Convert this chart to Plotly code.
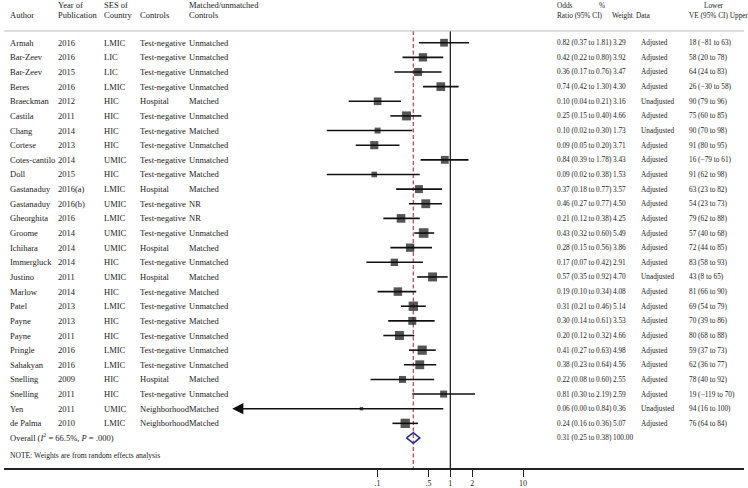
import math
import plotly.graph_objects as go

authors = ["Armah", "Bar-Zeev", "Bar-Zeev", "Beres", "Braeckman", "Castila", "Chang", "Cortese",
           "Cotes-cantilo", "Doll", "Gastanaduy", "Gastanaduy", "Gheorghita", "Groome", "Ichihara",
           "Immergluck", "Justino", "Marlow", "Patel", "Payne", "Payne", "Pringle", "Sahakyan",
           "Snelling", "Snelling", "Yen", "de Palma"]
years = ["2016", "2016", "2015", "2016", "2012", "2011", "2014", "2013", "2014", "2015", "2016(a)",
         "2016(b)", "2016", "2014", "2014", "2014", "2011", "2014", "2013", "2013", "2011", "2016",
         "2016", "2009", "2011", "2011", "2010"]
ses = ["LMIC", "LIC", "LIC", "LMIC", "HIC", "HIC", "HIC", "HIC", "UMIC", "HIC", "LMIC", "UMIC", "LMIC",
       "UMIC", "UMIC", "HIC", "UMIC", "HIC", "LMIC", "HIC", "HIC", "LMIC", "LMIC", "HIC", "HIC",
       "UMIC", "LMIC"]
controls = ["Test-negative", "Test-negative", "Test-negative", "Test-negative", "Hospital",
            "Test-negative", "Test-negative", "Test-negative", "Test-negative", "Test-negative",
            "Hospital", "Test-negative", "Test-negative", "Test-negative", "Hospital", "Test-negative",
            "Hospital", "Test-negative", "Test-negative", "Test-negative", "Test-negative",
            "Test-negative", "Test-negative", "Hospital", "Test-negative", "Neighborhood",
            "Neighborhood"]
matched = ["Unmatched", "Unmatched", "Unmatched", "Unmatched", "Matched", "Unmatched", "Matched",
           "Unmatched", "Unmatched", "Matched", "Matched", "NR", "NR", "Unmatched", "Matched",
           "Unmatched", "Matched", "Matched", "Unmatched", "Matched", "Unmatched", "Unmatched",
           "Unmatched", "Matched", "Unmatched", "Matched", "Matched"]
odds_ratio = [0.82, 0.42, 0.36, 0.74, 0.10, 0.25, 0.10, 0.09, 0.84, 0.09, 0.37, 0.46, 0.21, 0.43,
              0.28, 0.17, 0.57, 0.19, 0.31, 0.30, 0.20, 0.41, 0.38, 0.22, 0.81, 0.06, 0.24]
ci_low = [0.37, 0.22, 0.17, 0.42, 0.04, 0.15, 0.02, 0.05, 0.39, 0.02, 0.18, 0.27, 0.12, 0.32, 0.15,
          0.07, 0.35, 0.10, 0.21, 0.14, 0.12, 0.27, 0.23, 0.08, 0.30, 0.00, 0.16]
ci_high = [1.81, 0.80, 0.76, 1.30, 0.21, 0.40, 0.30, 0.20, 1.78, 0.38, 0.77, 0.77, 0.38, 0.60, 0.56,
           0.42, 0.92, 0.34, 0.46, 0.61, 0.32, 0.63, 0.64, 0.60, 2.19, 0.84, 0.36]
weights = [3.29, 3.92, 3.47, 4.30, 3.16, 4.66, 1.73, 3.71, 3.43, 1.53, 3.57, 4.50, 4.25, 5.49, 3.86,
           2.91, 4.70, 4.08, 5.14, 3.53, 4.66, 4.98, 4.56, 2.55, 2.59, 0.36, 5.07]
data_type = ["Adjusted", "Adjusted", "Adjusted", "Adjusted", "Unadjusted", "Adjusted", "Unadjusted",
             "Adjusted", "Adjusted", "Adjusted", "Adjusted", "Adjusted", "Adjusted", "Adjusted",
             "Adjusted", "Adjusted", "Unadjusted", "Adjusted", "Adjusted", "Adjusted", "Adjusted",
             "Adjusted", "Adjusted", "Adjusted", "Adjusted", "Unadjusted", "Adjusted"]
ve_text = ["18 (\u221281 to 63)", "58 (20 to 78)", "64 (24 to 83)", "26 (\u221230 to 58)",
           "90 (79 to 96)", "75 (60 to 85)", "90 (70 to 98)", "91 (80 to 95)", "16 (\u221279 to 61)",
           "91 (62 to 98)", "63 (23 to 82)", "54 (23 to 73)", "79 (62 to 88)", "57 (40 to 68)",
           "72 (44 to 85)", "83 (58 to 93)", "43 (8 to 65)", "81 (66 to 90)", "69 (54 to 79)",
           "70 (39 to 86)", "80 (68 to 88)", "59 (37 to 73)", "62 (36 to 77)", "78 (40 to 92)",
           "19 (\u2212119 to 70)", "94 (16 to 100)", "76 (64 to 84)"]
overall_or, overall_low, overall_high, overall_weight = 0.31, 0.25, 0.38, 100.00
overall_label = "Overall (<i>I</i><sup>2</sup> = 66.5%, <i>P</i> = .000)"
tick_vals = [0.1, 0.5, 1, 2, 10]
tick_text = [".1", ".5", "1", "2", "10"]
axis_clip = 0.001  # left limit where truncated CIs get an arrow

W, H = 748, 488
ML, MR, MT, MB = 4, 4, 0, 20
FONT = "Liberation Serif"
TXT = "#222222"
FS_L = 8.5
FS_R = 7.3

n = len(authors)
rows = list(range(n))
overall_row = n
x_range = [-6.139, 4.040]
y_range = [29.05, -2.917]
top_rule = -0.8
hdr1, hdr2 = -2.57, -1.89


def px(xpix):
    return (xpix - ML) / (W - ML - MR)


fig = go.Figure()

# vertical reference lines
fig.add_trace(go.Scatter(x=[1, 1], y=[top_rule, y_range[0]], mode="lines",
                         line=dict(color="#111111", width=1.2), hoverinfo="skip", showlegend=False))
fig.add_trace(go.Scatter(x=[overall_or, overall_or], y=[top_rule, y_range[0]], mode="lines",
                         line=dict(color="#b5525a", width=1.3, dash="4px,2.5px"),
                         hoverinfo="skip", showlegend=False))

# CI lines
cx, cy = [], []
for i in rows:
    if ci_low[i] <= 0:
        continue
    cx += [ci_low[i], ci_high[i], None]
    cy += [i, i, None]
fig.add_trace(go.Scatter(x=cx, y=cy, mode="lines", line=dict(color="#111111", width=1.6),
                         hoverinfo="skip", showlegend=False))

# truncated CI with arrow
for i in rows:
    if ci_low[i] <= 0:
        fig.add_annotation(x=math.log10(axis_clip), y=i, ax=math.log10(ci_high[i]), ay=i,
                           xref="x", yref="y", axref="x", ayref="y", text="", showarrow=True,
                           arrowhead=2, arrowsize=1.6, arrowwidth=1.4, arrowcolor="#111111",
                           standoff=0, startstandoff=0)

# point estimates (box size by weight)
fig.add_trace(go.Scatter(x=odds_ratio, y=rows, mode="markers",
                         marker=dict(symbol="square", color="#0d0d0d",
                                     size=[3.6 * math.sqrt(w) + 1.2 for w in weights],
                                     line=dict(width=0)),
                         hoverinfo="skip", showlegend=False))

# overall diamond
dh = 0.36
fig.add_trace(go.Scatter(x=[overall_low, overall_or, overall_high, overall_or, overall_low],
                         y=[overall_row, overall_row - dh, overall_row, overall_row + dh, overall_row],
                         mode="lines", line=dict(color="#1f2a8a", width=1.6),
                         hoverinfo="skip", showlegend=False))


def txt(xpix, y, s, size):
    fig.add_annotation(x=px(xpix), y=y, xref="paper", yref="y", text=s, showarrow=False,
                       xanchor="left", yanchor="middle", font=dict(family=FONT, size=size, color=TXT))


# headers
txt(8, hdr2, "Author", FS_L)
txt(56, hdr1, "Year of", FS_L); txt(56, hdr2, "Publication", FS_L)
txt(102, hdr1, "SES of", FS_L); txt(102, hdr2, "Country", FS_L)
txt(138, hdr2, "Controls", FS_L)
txt(187, hdr1, "Matched/unmatched", FS_L); txt(187, hdr2, "Controls", FS_L)
txt(555, hdr1, "Odds", FS_R); txt(555, hdr2, "Ratio (95% CI)", FS_R)
txt(597, hdr1, "%", FS_R); txt(610, hdr2, "Weight", FS_R)
txt(634, hdr2, "Data", FS_R)
txt(702, hdr1, "Lower", FS_R); txt(687, hdr2, "VE (95% CI) Upper", FS_R)

for i in rows:
    txt(8, i, authors[i], FS_L)
    txt(56, i, years[i], FS_L)
    txt(102, i, ses[i], FS_L)
    txt(138, i, controls[i], FS_L)
    txt(187, i, matched[i], FS_L)
    txt(555, i, f"{odds_ratio[i]:.2f} ({ci_low[i]:.2f} to {ci_high[i]:.2f})", FS_R)
    txt(611, i, f"{weights[i]:.2f}", FS_R)
    txt(639, i, data_type[i], FS_R)
    txt(687, i, ve_text[i], FS_R)

txt(8, overall_row, overall_label, FS_L)
txt(555, overall_row, f"{overall_or:.2f} ({overall_low:.2f} to {overall_high:.2f})", FS_R)
txt(611, overall_row, f"{overall_weight:.2f}", FS_R)
txt(8, 28.2, "NOTE: Weights are from random effects analysis", 7.6)

fig.add_shape(type="line", xref="paper", yref="y", x0=0, x1=1, y0=top_rule, y1=top_rule,
              line=dict(color="#bdbdbd", width=1))

fig.update_layout(
    width=W, height=H, margin=dict(l=ML, r=MR, t=MT, b=MB),
    paper_bgcolor="white", plot_bgcolor="white", showlegend=False,
    xaxis=dict(type="log", range=x_range, tickvals=tick_vals, ticktext=tick_text,
               showgrid=False, zeroline=False, showline=True, linecolor="#222222", linewidth=1.6,
               ticks="outside", ticklen=7, tickwidth=1.4, tickcolor="#222222",
               tickfont=dict(family=FONT, size=8, color=TXT), fixedrange=True),
    yaxis=dict(range=y_range, visible=False, showgrid=False, zeroline=False, fixedrange=True),
)

fig.write_html("out.html", config={"displayModeBar": False},
               post_script="document.body.style.margin='0';")
